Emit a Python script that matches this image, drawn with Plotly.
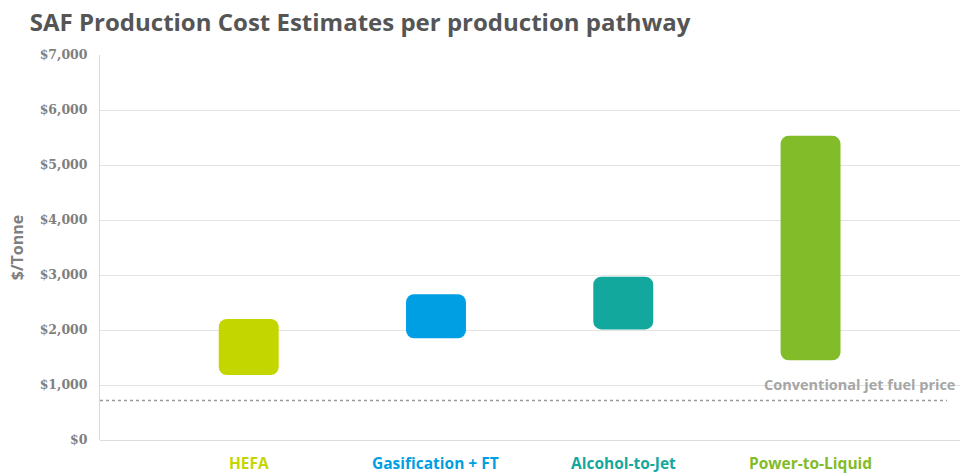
import plotly.graph_objects as go

# Production pathways and their estimated cost range ($/tonne)
pathways = ["HEFA", "Gasification + FT", "Alcohol-to-Jet", "Power-to-Liquid"]
cost_low = [1180, 1850, 2010, 1450]
cost_high = [2200, 2650, 2970, 5530]
jet_fuel_price = 720

# Y-axis ticks
tick_values = [0, 1000, 2000, 3000, 4000, 5000, 6000, 7000]
tick_labels = ["$0", "$1,000", "$2,000", "$3,000", "$4,000", "$5,000", "$6,000", "$7,000"]

colors = ["#C4D600", "#009FE3", "#13A89E", "#82BC28"]

span = [hi - lo for lo, hi in zip(cost_low, cost_high)]

fig = go.Figure()

# Floating range bars (base = low estimate), rounded at both ends
fig.add_trace(go.Bar(
    x=pathways, y=span, base=cost_low, width=0.32,
    marker=dict(color=colors, cornerradius=8, line=dict(width=0)),
    customdata=list(zip(cost_low, cost_high)),
    hovertemplate="%{x}<br>$%{customdata[0]:,} – $%{customdata[1]:,}<extra></extra>",
))

# Conventional jet fuel reference line
fig.add_shape(type="line", xref="paper", yref="y", x0=0, x1=0.985,
              y0=jet_fuel_price, y1=jet_fuel_price,
              line=dict(color="#9a9a9a", width=1.5, dash="dot"))
fig.add_annotation(xref="paper", yref="y", x=0.997, y=jet_fuel_price,
                   xanchor="right", yanchor="bottom", yshift=4,
                   text="<b>Conventional jet fuel price</b>", showarrow=False,
                   font=dict(family="Open Sans", size=14.5, color="#a6a6a6"))

# Coloured category labels under the axis
for name, col in zip(pathways, colors):
    fig.add_annotation(x=name, y=0, xref="x", yref="y", yanchor="middle",
                       yshift=-23, text=f"<b>{name}</b>", showarrow=False,
                       font=dict(family="Open Sans", size=15.5, color=col))

fig.update_layout(
    width=962, height=474,
    margin=dict(l=100, r=2, t=55, b=34),
    paper_bgcolor="white", plot_bgcolor="white",
    showlegend=False,
    title=dict(text="<b>SAF Production Cost Estimates per production pathway</b>",
               x=0.031, xanchor="left", y=0.953, yanchor="middle",
               font=dict(family="Open Sans", size=24, color="#555555")),
    xaxis=dict(range=[-0.794, 3.798], showticklabels=False, showgrid=False,
               zeroline=False, ticks=""),
    yaxis=dict(range=[0, 7000], tickvals=tick_values, ticktext=tick_labels,
               showgrid=True, gridcolor="#e3e3e3", gridwidth=1,
               zeroline=True, zerolinecolor="#dcdcdc", zerolinewidth=1,
               showline=True, linecolor="#d9d9d9", linewidth=1,
               ticks="", ticklabelstandoff=9,
               tickfont=dict(family="DejaVu Serif", size=12.5, color="#7f7f7f", weight="bold"),
               title=dict(text="<b>$/Tonne</b>", standoff=12,
                          font=dict(family="Open Sans", size=16, color="#7f7f7f"))),
)

fig.write_html("out.html")
